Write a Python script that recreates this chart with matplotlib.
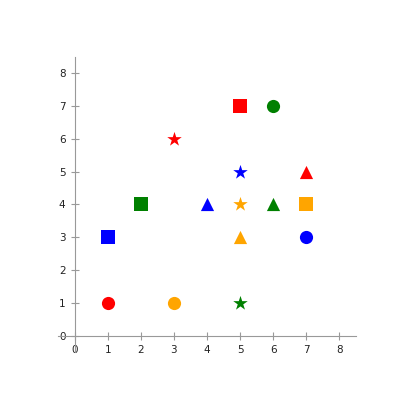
import matplotlib
matplotlib.use("Agg")
import matplotlib.pyplot as plt

colors = ["red", "blue", "green", "orange"]
markers = ["o", "*", "s", "^"]
# x, y per color per marker (circle, star, square, triangle)
red_x = [1, 3, 5, 7]
red_y = [1, 6, 7, 5]
blue_x = [7, 5, 1, 4]
blue_y = [3, 5, 3, 4]
green_x = [6, 5, 2, 6]
green_y = [7, 1, 4, 4]
orange_x = [3, 5, 7, 5]
orange_y = [1, 4, 4, 3]
ticks = [0, 1, 2, 3, 4, 5, 6, 7, 8]

series = [(red_x, red_y), (blue_x, blue_y), (green_x, green_y), (orange_x, orange_y)]

fig = plt.figure(figsize=(4.04, 4.05), dpi=100)
ax = fig.add_axes([58/404, 53/405, 298/404, 295/405])
for c, (xs, ys) in zip(colors, series):
    for m, x, y in zip(markers, xs, ys):
        size = 120 if m == "*" else 90
        ax.scatter([x], [y], marker=m, color=c, s=size, zorder=3, linewidths=0)

ax.set_xlim(-0.5, 8.5)
ax.set_ylim(-0.5, 8.5)
ax.spines["left"].set_position(("data", 0))
ax.spines["bottom"].set_position(("data", 0))
ax.spines["right"].set_visible(False)
ax.spines["top"].set_visible(False)
for s in ["left", "bottom"]:
    ax.spines[s].set_color("#999999")
ax.set_xticks(ticks)
ax.set_yticks(ticks)
ax.tick_params(direction="inout", length=6, color="#999999", labelsize=7.5, labelcolor="#222222")
fig.savefig("out.png", dpi=100)
